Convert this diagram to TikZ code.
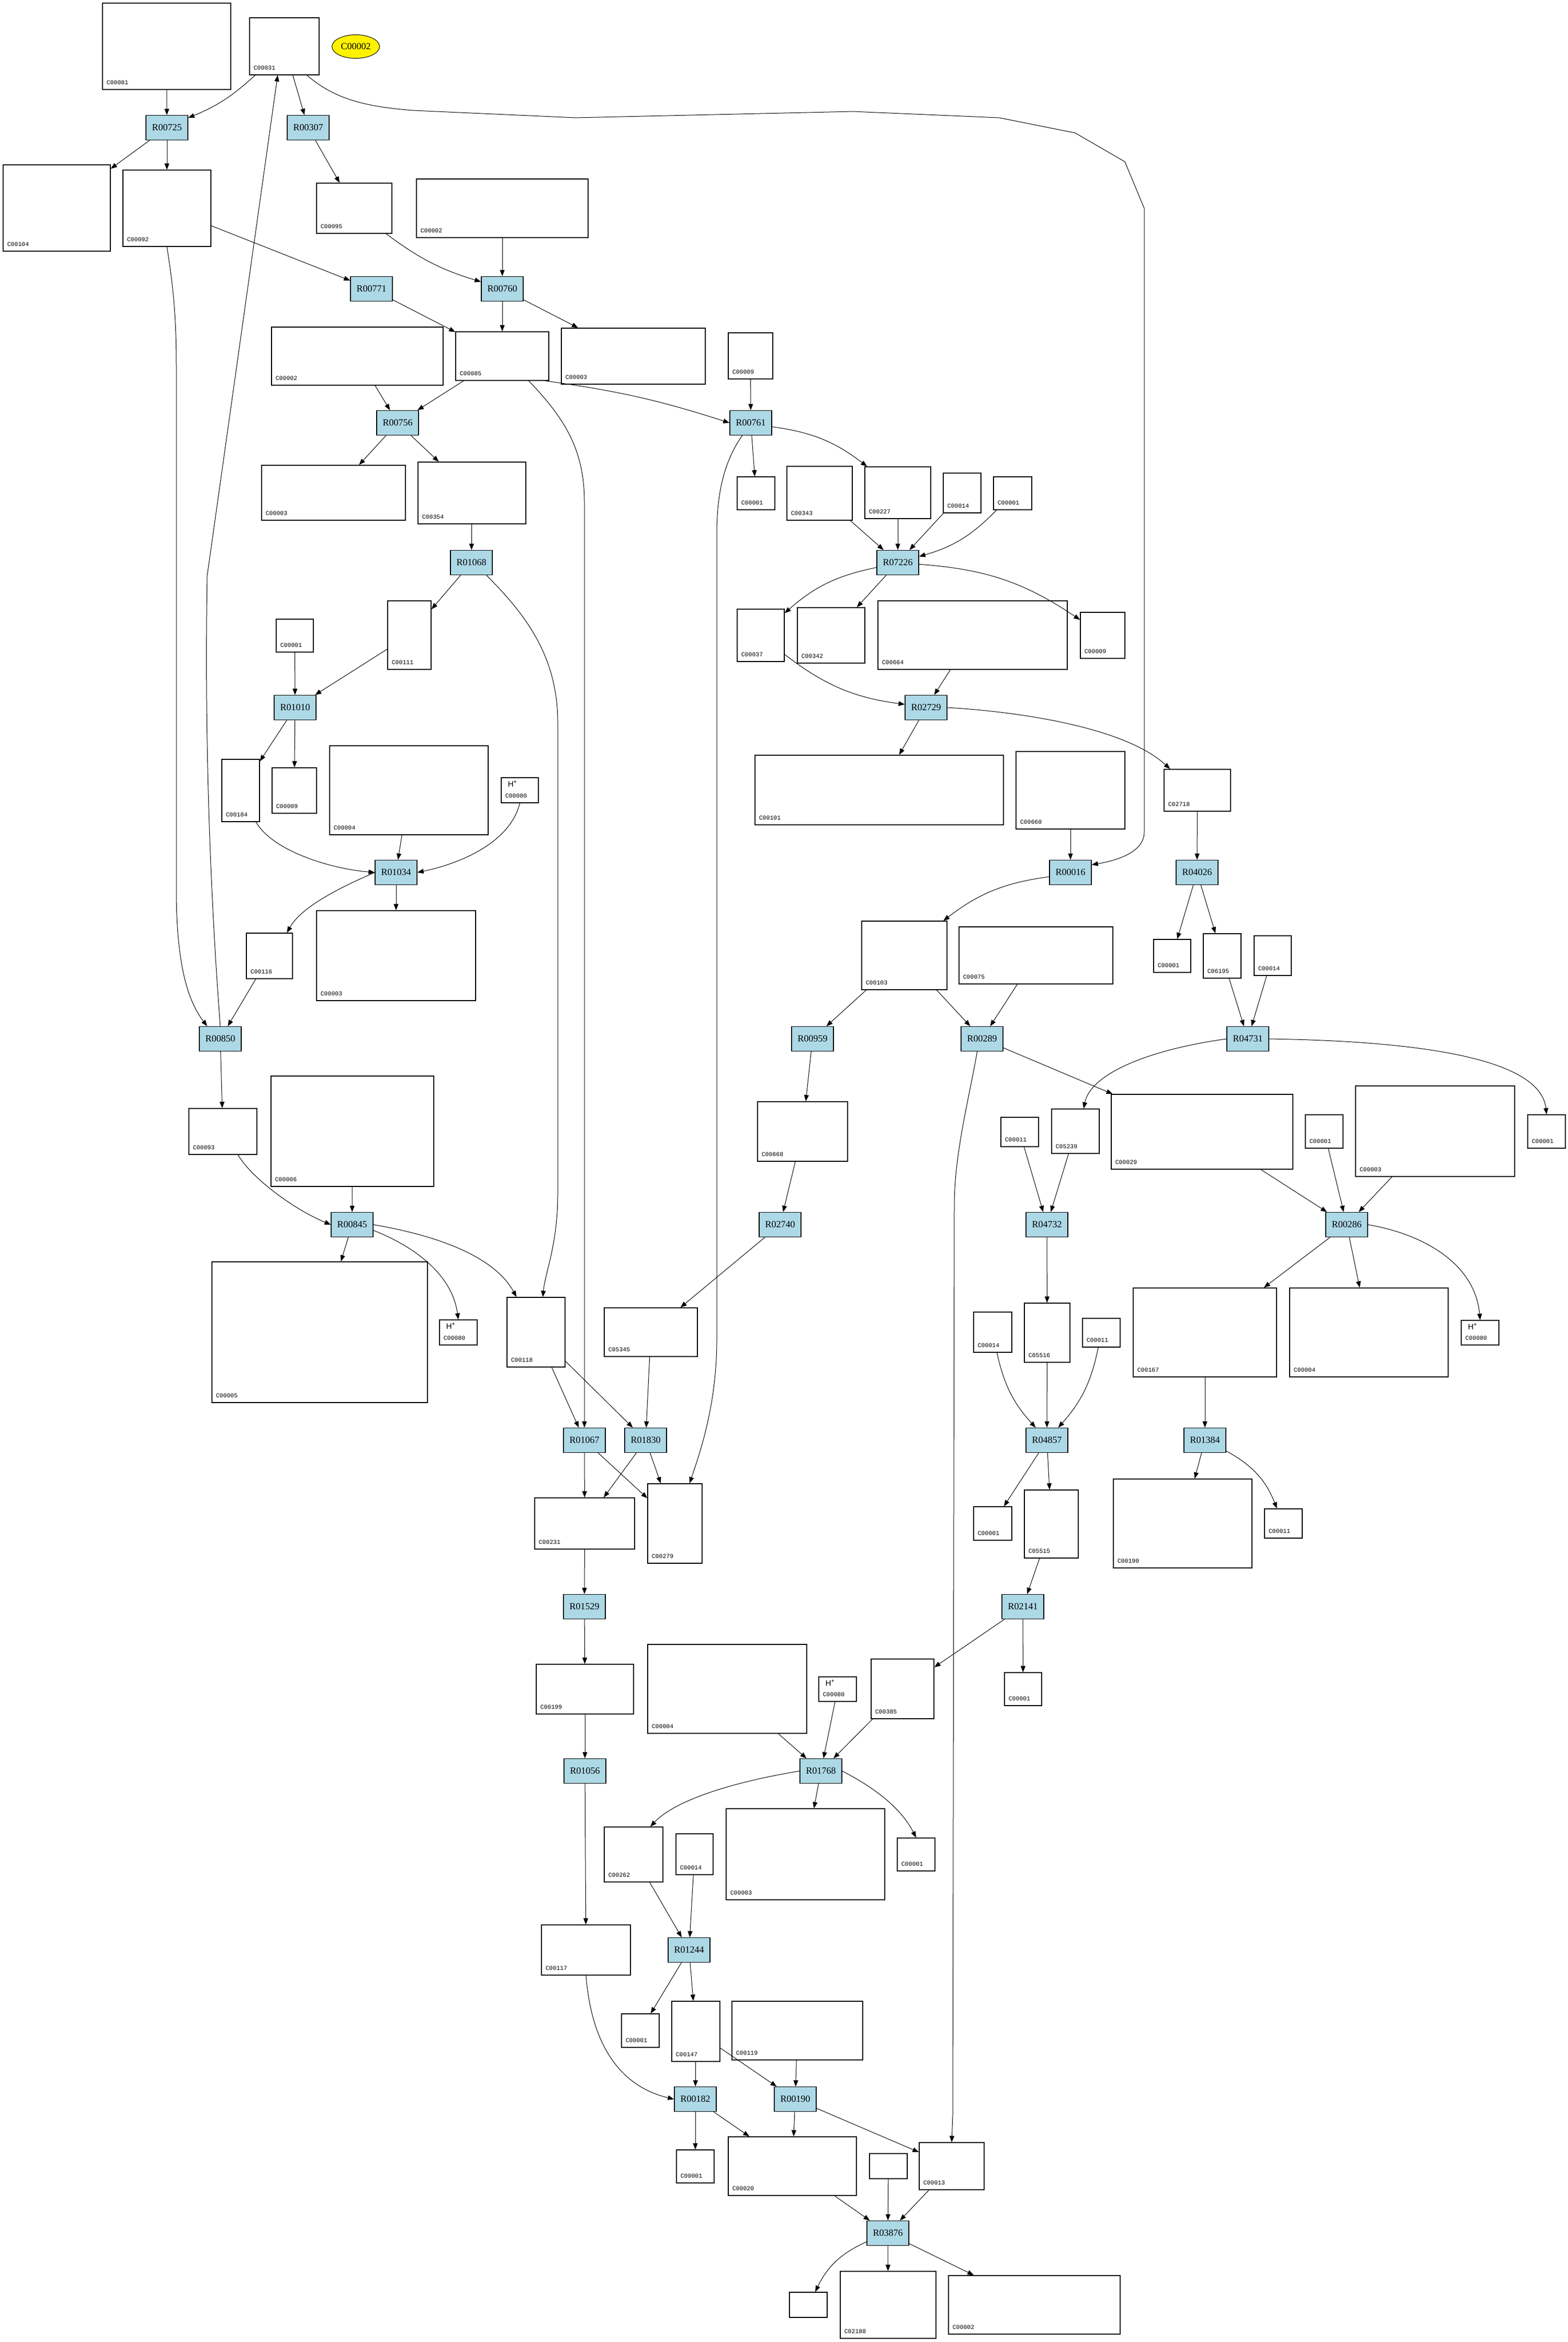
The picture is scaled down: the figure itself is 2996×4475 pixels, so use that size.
\documentclass[tikz,border=0pt]{standalone}
\usepackage{fontspec}
\setmainfont{Liberation Serif}
\newfontfamily\cidfont{Liberation Mono}
\newfontfamily\atomfont{Liberation Sans}
\usetikzlibrary{arrows.meta,shapes.geometric}
\definecolor{rxnblue}{HTML}{ADD8E6}
\tikzset{
	rxn/.style={draw, fill=rxnblue, line width=1.3pt, minimum width=80, minimum height=47, inner sep=0pt, font=\fontsize{18}{20}\selectfont},
	cpd/.style={draw, fill=white, line width=1.4pt, inner sep=0pt, label={[cid]south west:#1}},
	blank/.style={draw, fill=white, line width=1.4pt, inner sep=0pt, minimum width=72, minimum height=48},
	cid/.style={anchor=south west, inner xsep=8pt, inner ysep=10pt, font=\cidfont\fontsize{11.5}{13}\selectfont},
	atom/.style={anchor=north west, inner xsep=13pt, inner ysep=6pt, font=\atomfont\fontsize{15}{16}\selectfont},
	hplus/.style={label={[atom]north west:H\textsuperscript{+}}},
}

\begin{document}
\begin{tikzpicture}[x=1pt, y=-1pt, ->, >={Triangle[length=12pt,width=9pt]}, line width=1pt]
	\useasboundingbox (0,0) rectangle (2996,4475);
	% reactions
	\node[rxn] (R00725) at (319,244) {R00725};
	\node[rxn] (R00307) at (589,244) {R00307};
	\node[rxn] (R00771) at (710,552) {R00771};
	\node[rxn] (R00760) at (960,552) {R00760};
	\node[rxn] (R00756) at (760,808) {R00756};
	\node[rxn] (R00761) at (1435,808) {R00761};
	\node[rxn] (R01068) at (901,1075) {R01068};
	\node[rxn] (R07226) at (1716,1075) {R07226};
	\node[rxn] (R01010) at (564,1352) {R01010};
	\node[rxn] (R02729) at (1770,1352) {R02729};
	\node[rxn] (R01034) at (757,1667) {R01034};
	\node[rxn] (R00016) at (2046,1667) {R00016};
	\node[rxn] (R04026) at (2288,1667) {R04026};
	\node[rxn] (R00850) at (421,1985) {R00850};
	\node[rxn] (R00959) at (1553,1985) {R00959};
	\node[rxn] (R00289) at (1877,1985) {R00289};
	\node[rxn] (R04731) at (2385,1985) {R04731};
	\node[rxn] (R00845) at (673,2340) {R00845};
	\node[rxn] (R02740) at (1491,2340) {R02740};
	\node[rxn] (R04732) at (2001,2340) {R04732};
	\node[rxn] (R00286) at (2574,2340) {R00286};
	\node[rxn] (R01067) at (1117,2752) {R01067};
	\node[rxn] (R01830) at (1234,2752) {R01830};
	\node[rxn] (R04857) at (2001,2752) {R04857};
	\node[rxn] (R01384) at (2303,2752) {R01384};
	\node[rxn] (R01529) at (1117,3070) {R01529};
	\node[rxn] (R02141) at (1955,3070) {R02141};
	\node[rxn] (R01056) at (1118,3384) {R01056};
	\node[rxn] (R01768) at (1569,3384) {R01768};
	\node[rxn] (R01244) at (1317,3726) {R01244};
	\node[rxn] (R00182) at (1329,4011) {R00182};
	\node[rxn] (R00190) at (1520,4011) {R00190};
	\node[rxn] (R03876) at (1697,4267) {R03876};
	% compounds
	\node[draw, ellipse, fill=yellow, line width=1pt, minimum width=91, minimum height=45, inner sep=0pt, font=\fontsize{18}{20}\selectfont] (C00002) at (680,89) {C00002};
	\node[cpd=C00081, minimum width=245, minimum height=165] (C00081) at (318.5,88.5) {};
	\node[cpd=C00031, minimum width=133, minimum height=109] (C00031) at (543.5,88.5) {};
	\node[cpd=C00104, minimum width=205, minimum height=165] (C00104) at (108.5,397.5) {};
	\node[cpd=C00092, minimum width=168, minimum height=146] (C00092) at (319,398) {};
	\node[cpd=C00095, minimum width=144, minimum height=96] (C00095) at (677,398) {};
	\node[cpd=C00002, minimum width=328, minimum height=112] (C00002b) at (960,398) {};
	\node[cpd=C00002, minimum width=328, minimum height=111] (C00002c) at (683,680.5) {};
	\node[cpd=C00085, minimum width=178, minimum height=93] (C00085) at (960,680.5) {};
	\node[cpd=C00003, minimum width=275, minimum height=107] (C00003a) at (1210.5,680.5) {};
	\node[cpd=C00009, minimum width=85, minimum height=88] (C00009a) at (1434.5,680) {};
	\node[cpd=C00003, minimum width=275, minimum height=105] (C00003b) at (637.5,941.5) {};
	\node[cpd=C00354, minimum width=206, minimum height=118] (C00354) at (902,942) {};
	\node[cpd=C00001, minimum width=72, minimum height=63] (C00001a) at (1445,942.5) {};
	\node[cpd=C00343, minimum width=125, minimum height=103] (C00343) at (1566.5,942.5) {};
	\node[cpd=C00227, minimum width=126, minimum height=99] (C00227) at (1716,941.5) {};
	\node[cpd=C00014, minimum width=72, minimum height=76] (C00014a) at (1839,942) {};
	\node[cpd=C00001, minimum width=73, minimum height=63] (C00001b) at (1935.5,942.5) {};
	\node[cpd=C00001, minimum width=71, minimum height=63] (C00001c) at (563.5,1214.5) {};
	\node[cpd=C00111, minimum width=83, minimum height=131] (C00111) at (782.5,1213.5) {};
	\node[cpd=C00037, minimum width=90, minimum height=100] (C00037) at (1454,1214) {};
	\node[cpd=C00342, minimum width=129, minimum height=106] (C00342) at (1588.5,1214) {};
	\node[cpd=C00664, minimum width=362, minimum height=131] (C00664) at (1859,1213.5) {};
	\node[cpd=C00009, minimum width=85, minimum height=88] (C00009c) at (2107.5,1214) {};
	\node[cpd=C00184, minimum width=72, minimum height=119] (C00184) at (460,1510.5) {};
	\node[cpd=C00009, minimum width=85, minimum height=87] (C00009b) at (562.5,1510.5) {};
	\node[cpd=C00004, minimum width=303, minimum height=170] (C00004a) at (781.5,1510) {};
	\node[cpd=C00080, hplus, minimum width=71, minimum height=48] (C00080a) at (993.5,1510) {};
	\node[cpd=C00101, minimum width=475, minimum height=133] (C00101) at (1680.5,1509.5) {};
	\node[cpd=C00660, minimum width=208, minimum height=148] (C00660) at (2046,1510) {};
	\node[cpd=C02718, minimum width=127, minimum height=80] (C02718) at (2288.5,1510) {};
	\node[cpd=C00116, minimum width=88, minimum height=87] (C00116) at (515,1826.5) {};
	\node[cpd=C00003, minimum width=304, minimum height=172] (C00003c) at (757,1826) {};
	\node[cpd=C00103, minimum width=163, minimum height=131] (C00103) at (1728.5,1825.5) {};
	\node[cpd=C00075, minimum width=294, minimum height=109] (C00075) at (1980,1825.5) {};
	\node[cpd=C00001, minimum width=71, minimum height=63] (C00001e) at (2240.5,1826.5) {};
	\node[cpd=C06195, minimum width=72, minimum height=85] (C06195) at (2336,1826.5) {};
	\node[cpd=C00014, minimum width=71, minimum height=76] (C00014b) at (2432.5,1826) {};
	\node[cpd=C00093, minimum width=130, minimum height=88] (C00093) at (426,2162) {};
	\node[cpd=C00006, minimum width=311, minimum height=211] (C00006) at (673.5,2161.5) {};
	\node[cpd=C00668, minimum width=172, minimum height=114] (C00668) at (1534,2162) {};
	\node[cpd=C00011, minimum width=72, minimum height=56] (C00011a) at (1949,2163) {};
	\node[cpd=C05239, minimum width=91, minimum height=85] (C05239) at (2055.5,2161.5) {};
	\node[cpd=C00029, minimum width=347, minimum height=143] (C00029) at (2297.5,2162.5) {};
	\node[cpd=C00001, minimum width=72, minimum height=64] (C00001f) at (2531,2162) {};
	\node[cpd=C00003, minimum width=304, minimum height=173] (C00003d) at (2743,2161.5) {};
	\node[cpd=C00001, minimum width=72, minimum height=64] (C00001g) at (2956,2162) {};
	\node[cpd=C00005, minimum width=412, minimum height=269] (C00005) at (611,2545.5) {};
	\node[cpd=C00080, hplus, minimum width=72, minimum height=48] (C00080b) at (876,2546) {};
	\node[cpd=C00118, minimum width=111, minimum height=133] (C00118) at (1024.5,2545.5) {};
	\node[cpd=C05345, minimum width=178, minimum height=93] (C05345) at (1244,2545.5) {};
	\node[cpd=C00014, minimum width=73, minimum height=77] (C00014c) at (1897.5,2545.5) {};
	\node[cpd=C05516, minimum width=87, minimum height=113] (C05516) at (2001.5,2546.5) {};
	\node[cpd=C00011, minimum width=72, minimum height=55] (C00011b) at (2105,2546.5) {};
	\node[cpd=C00167, minimum width=274, minimum height=170] (C00167) at (2303,2546) {};
	\node[cpd=C00004, minimum width=303, minimum height=170] (C00004c) at (2616.5,2546) {};
	\node[cpd=C00080, hplus, minimum width=72, minimum height=47] (C00080d) at (2829,2546.5) {};
	\node[cpd=C00231, minimum width=191, minimum height=98] (C00231) at (1117.5,2911) {};
	\node[cpd=C00279, minimum width=104, minimum height=152] (C00279) at (1290,2911) {};
	\node[cpd=C00001, minimum width=73, minimum height=64] (C00001h) at (1897.5,2911) {};
	\node[cpd=C05515, minimum width=103, minimum height=130] (C05515) at (2009.5,2912) {};
	\node[cpd=C00190, minimum width=265, minimum height=170] (C00190) at (2260.5,2911) {};
	\node[cpd=C00011, minimum width=72, minimum height=56] (C00011c) at (2453,2911) {};
	\node[cpd=C00199, minimum width=186, minimum height=95] (C00199) at (1118,3227.5) {};
	\node[cpd=C00004, minimum width=304, minimum height=170] (C00004b) at (1390,3227) {};
	\node[cpd=C00080, hplus, minimum width=72, minimum height=47] (C00080c) at (1601,3227.5) {};
	\node[cpd=C00385, minimum width=120, minimum height=114] (C00385) at (1725,3227) {};
	\node[cpd=C00001, minimum width=71, minimum height=63] (C00001i) at (1955.5,3227.5) {};
	\node[cpd=C00262, minimum width=112, minimum height=105] (C00262) at (1211,3543.5) {};
	\node[cpd=C00014, minimum width=71, minimum height=78] (C00014d) at (1327.5,3543) {};
	\node[cpd=C00003, minimum width=303, minimum height=174] (C00003e) at (1539.5,3543) {};
	\node[cpd=C00001, minimum width=72, minimum height=63] (C00001j) at (1751,3543.5) {};
	\node[cpd=C00117, minimum width=170, minimum height=96] (C00117) at (1120,3726) {};
	\node[cpd=C00001, minimum width=72, minimum height=64] (C00001k) at (1224,3880) {};
	\node[cpd=C00147, minimum width=92, minimum height=115] (C00147) at (1330,3881.5) {};
	\node[cpd=C00119, minimum width=250, minimum height=112] (C00119) at (1524,3880) {};
	\node[cpd=C00001, minimum width=72, minimum height=63] (C00001l) at (1329,4139.5) {};
	\node[cpd=C00020, minimum width=245, minimum height=112] (C00020) at (1514.5,4139) {};
	\node[blank] (blankin) at (1698,4139) {};
	\node[cpd=C00013, minimum width=124, minimum height=90] (C00013) at (1819,4139) {};
	\node[blank] (blankout) at (1545,4404) {};
	\node[cpd=C02188, minimum width=183, minimum height=128] (C02188) at (1697.5,4404) {};
	\node[cpd=C00002, minimum width=328, minimum height=112] (C00002d) at (1977,4404) {};
	% links
	\draw (C00081) -- (R00725);
	\draw (C00031) to[bend left=10] (R00725);
	\draw (C00031) -- (R00307);
	\draw (C00031.-52) .. controls (640,190) and (700,204) .. (790,211) -- (1100,225) -- (1630,213) -- (1910,225) -- (2055,254) -- (2150,309) -- (2187,398) -- (2187,1590) .. controls (2187,1630) and (2130,1645) .. (R00016.20);
	\draw (R00725) -- (C00104);
	\draw (R00725) -- (C00092);
	\draw (R00307) -- (C00095);
	\draw (C00092) -- (R00771);
	\draw (C00092.south) .. controls (330,540) and (337,600) .. (337,700) -- (337,1700) .. controls (337,1860) and (365,1920) .. (R00850.136);
	\draw (R00850.north) .. controls (405,1750) and (390,1450) .. (396,1100) -- (C00031.257);
	\draw (C00095) to[bend right=10] (R00760);
	\draw (C00002b) -- (R00760);
	\draw (R00771) -- (C00085);
	\draw (R00760) -- (C00085);
	\draw (R00760) -- (C00003a);
	\draw (C00002c) -- (R00756);
	\draw (C00085) -- (R00756);
	\draw (C00085.-30) to[bend left=5] (R00761.west);
	\draw (C00085.-43) .. controls (1080,800) and (1117,860) .. (1117,960) -- (R01067.north);
	\draw (R00756) -- (C00003b);
	\draw (R00756) -- (C00354);
	\draw (C00354) -- (R01068);
	\draw (R01068) -- (C00111);
	\draw (R01068.-40) .. controls (1000,1170) and (1066,1250) .. (1066,1380) -- (1066,2280) .. controls (1066,2380) and (1042,2430) .. (C00118.79);
	\draw (C00009a) -- (R00761);
	\draw (R00761) -- (C00001a);
	\draw (R00761) to[bend left=15] (C00227);
	\draw (R00761.-124) .. controls (1385,880) and (1370,940) .. (1370,1020) -- (1370,2560) .. controls (1370,2680) and (1340,2770) .. (C00279.70);
	\draw (C00343) -- (R07226);
	\draw (C00227) -- (R07226);
	\draw (C00014a) -- (R07226);
	\draw (C00001b) to[bend left=15] (R07226);
	\draw (R07226) to[bend right=15] (C00037);
	\draw (R07226) -- (C00342);
	\draw (R07226) to[bend left=15] (C00009c);
	\draw (C00037) to[bend right=15] (R02729);
	\draw (C00664) -- (R02729);
	\draw (R02729) -- (C00101);
	\draw (R02729.east) .. controls (1950,1360) and (2150,1390) .. (C02718.142);
	\draw (C00660) -- (R00016);
	\draw (R00016) to[bend right=15] (C00103);
	\draw (C02718) -- (R04026);
	\draw (R04026) -- (C00001e);
	\draw (R04026) -- (C06195);
	\draw (C06195) -- (R04731);
	\draw (C00014b) -- (R04731);
	\draw (C00103) -- (R00959);
	\draw (C00103) -- (R00289);
	\draw (C00075) -- (R00289);
	\draw (R00959) -- (C00668);
	\draw (R00289) -- (C00029);
	\draw (R00289.-111) .. controls (1852,2100) and (1825,2200) .. (1824,2300) -- (1821,4040) -- (C00013.north);
	\draw (R04731.west) .. controls (2200,2005) and (2085,2050) .. (C05239.70);
	\draw (R04731.east) .. controls (2750,1990) and (2945,2030) .. (C00001g.north);
	\draw (C00001c) -- (R01010);
	\draw (C00111) -- (R01010);
	\draw (R01010) -- (C00184);
	\draw (R01010) -- (C00009b);
	\draw (C00184.-64) .. controls (520,1625) and (630,1660) .. (R01034.west);
	\draw (C00004a) -- (R01034);
	\draw (C00080a.south) .. controls (975,1610) and (880,1650) .. (R01034.east);
	\draw (R01034.west) .. controls (640,1700) and (575,1735) .. (C00116.53);
	\draw (R01034) -- (C00003c);
	\draw (C00116) -- (R00850);
	\draw (R00850) -- (C00093);
	\draw (C00093.-57) .. controls (480,2250) and (560,2310) .. (R00845.west);
	\draw (C00006) -- (R00845);
	\draw (R00845) -- (C00005);
	\draw (R00845.-15) .. controls (800,2385) and (865,2440) .. (C00080b.north);
	\draw (R00845.east) .. controls (860,2365) and (950,2410) .. (C00118.119);
	\draw (C00668) -- (R02740);
	\draw (R02740) -- (C05345);
	\draw (C00011a) -- (R04732);
	\draw (C05239) -- (R04732);
	\draw (C00029) -- (R00286);
	\draw (C00001f) -- (R00286);
	\draw (C00003d) -- (R00286);
	\draw (R00286) -- (C00167);
	\draw (R00286) -- (C00004c);
	\draw (R00286.east) .. controls (2730,2360) and (2820,2420) .. (C00080d.north);
	\draw (C00118) -- (R01067);
	\draw (C00118) -- (R01830);
	\draw (C05345) -- (R01830);
	\draw (R01067) -- (C00231);
	\draw (R01067) -- (C00279);
	\draw (R01830) -- (C00231);
	\draw (R01830) -- (C00279);
	\draw (R04732) -- (C05516);
	\draw (C00014c) to[bend right=15] (R04857);
	\draw (C05516) -- (R04857);
	\draw (C00011b) to[bend left=15] (R04857);
	\draw (R04857) -- (C00001h);
	\draw (R04857) -- (C05515);
	\draw (C00167) -- (R01384);
	\draw (R01384) -- (C00190);
	\draw (R01384) to[bend left=20] (C00011c);
	\draw (C05515) -- (R02141);
	\draw (R02141) -- (C00385);
	\draw (R02141) -- (C00001i);
	\draw (C00231) -- (R01529);
	\draw (R01529) -- (C00199);
	\draw (C00199) -- (R01056);
	\draw (C00004b) -- (R01768);
	\draw (C00080c) -- (R01768);
	\draw (C00385) -- (R01768);
	\draw (R01056) -- (C00117);
	\draw (R01768.west) .. controls (1400,3405) and (1290,3440) .. (C00262.59);
	\draw (R01768) -- (C00003e);
	\draw (R01768.east) .. controls (1680,3420) and (1725,3460) .. (C00001j.north);
	\draw (C00262) -- (R01244);
	\draw (C00014d) -- (R01244);
	\draw (R01244) -- (C00001k);
	\draw (R01244) -- (C00147);
	\draw (C00117.south) .. controls (1130,3900) and (1180,3985) .. (R00182.west);
	\draw (C00147) -- (R00182);
	\draw (C00147) -- (R00190);
	\draw (C00119) -- (R00190);
	\draw (R00182) -- (C00001l);
	\draw (R00182) -- (C00020);
	\draw (R00190) -- (C00020);
	\draw (R00190) -- (C00013);
	\draw (C00020) -- (R03876);
	\draw (blankin) -- (R03876);
	\draw (C00013) -- (R03876);
	\draw (R03876) to[bend right=20] (blankout);
	\draw (R03876) -- (C02188);
	\draw (R03876) -- (C00002d);
\end{tikzpicture}
\end{document}
